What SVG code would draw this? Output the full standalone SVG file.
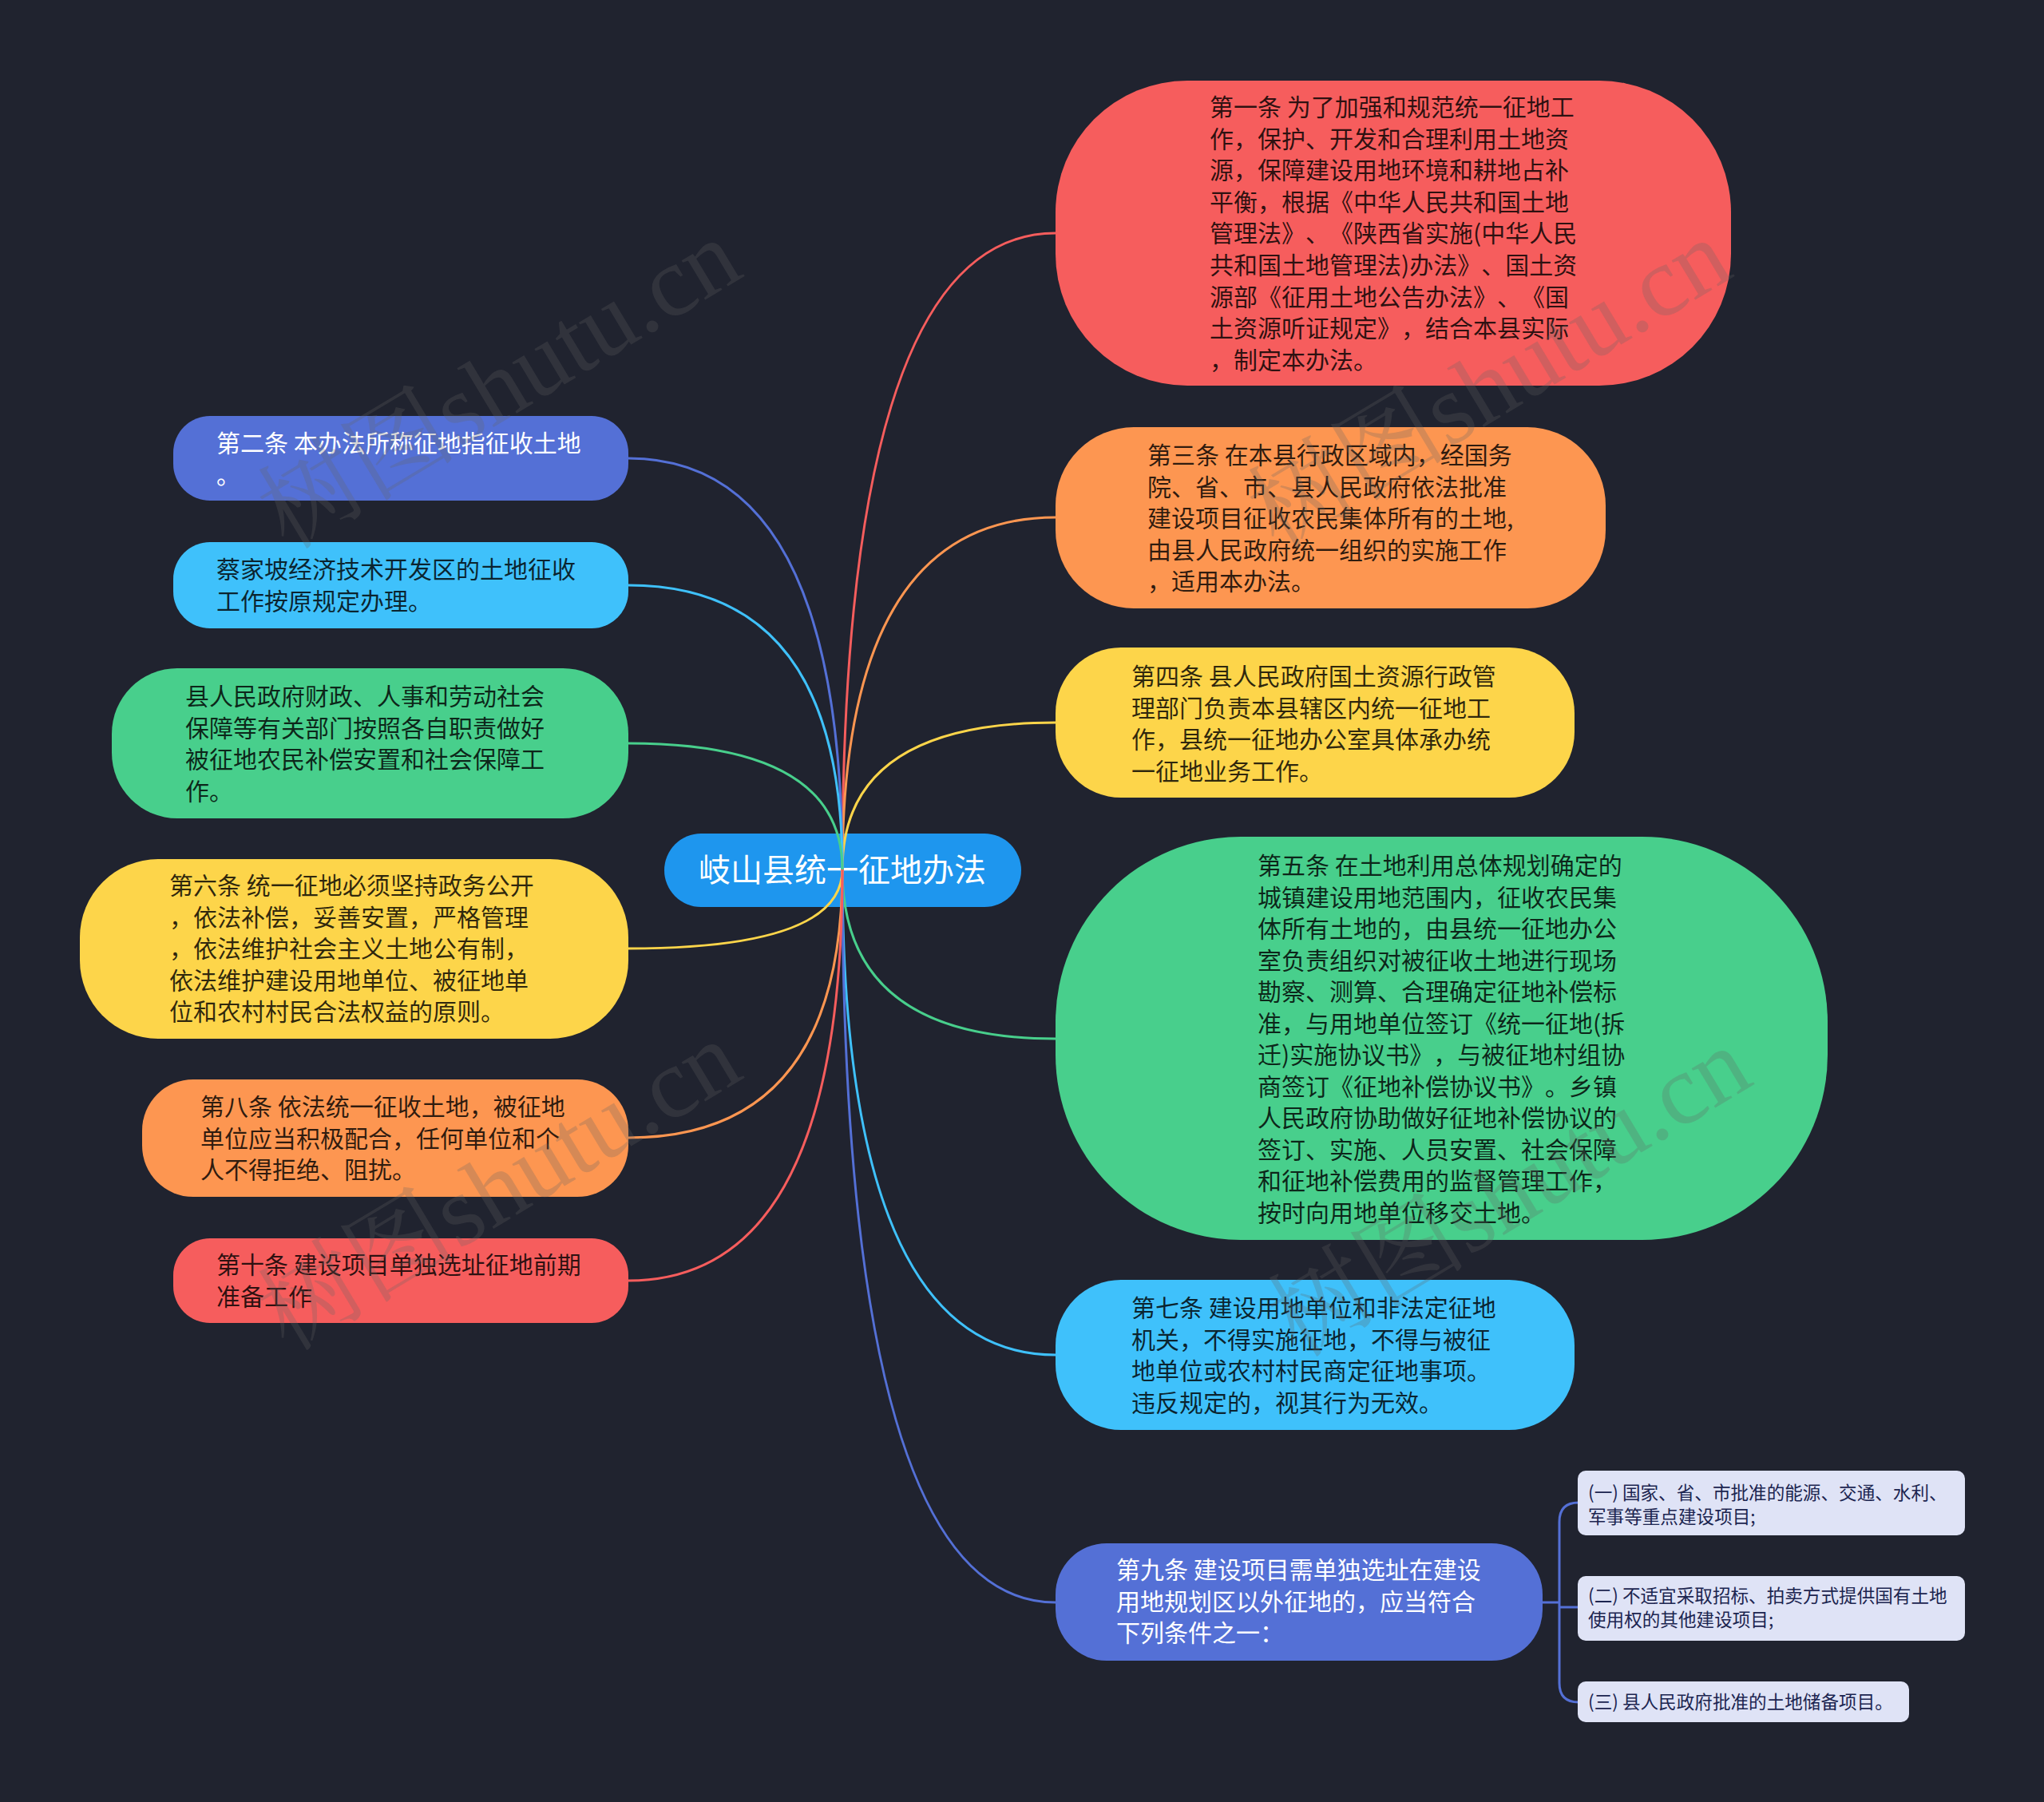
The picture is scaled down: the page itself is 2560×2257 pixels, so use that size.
<svg xmlns="http://www.w3.org/2000/svg" width="2560" height="2257" viewBox="0 0 2560 2257">
<style>
text{font-family:"Noto Sans CJK SC","Noto Sans",sans-serif;text-spacing-trim:space-all;}
.t{font-size:30px;fill:#000;fill-opacity:.82;}
.w{font-size:30px;fill:#fff;}
.s{font-size:22.6px;fill:#1c2550;}
.c{fill:none;stroke-width:3;}
.wm{font-family:"Liberation Serif","Noto Serif CJK SC","Noto Sans CJK SC",serif;font-size:125px;fill:#666;fill-opacity:.26;}
</style>
<rect width="2560" height="2257" fill="#20232f"/>

<g id="root">
<rect x="832" y="1044" width="447" height="92" rx="46" fill="#1e96ee"/>
<text x="1055" y="1104" font-size="40" fill="#fff" text-anchor="middle">岐山县统一征地办法</text>
</g>

<g id="connectors">
<path class="c" stroke="#f65d5d" d="M1055 1089 Q1055 292 1322 292"/>
<path class="c" stroke="#fd9651" d="M1055 1089 Q1055 648 1322 648"/>
<path class="c" stroke="#fdd54a" d="M1055 1089 Q1055 905 1322 905"/>
<path class="c" stroke="#48cf8c" d="M1055 1089 Q1055 1301 1322 1301"/>
<path class="c" stroke="#3fc1fb" d="M1055 1089 Q1055 1697 1322 1697"/>
<path class="c" stroke="#5470d6" d="M1055 1089 Q1055 2007 1322 2007"/>
<path class="c" stroke="#5470d6" d="M1055 1089 Q1055 574 787 574"/>
<path class="c" stroke="#3fc1fb" d="M1055 1089 Q1055 733 787 733"/>
<path class="c" stroke="#48cf8c" d="M1055 1089 Q1055 931 787 931"/>
<path class="c" stroke="#fdd54a" d="M1055 1089 Q1055 1188 787 1188"/>
<path class="c" stroke="#fd9651" d="M1055 1089 Q1055 1425 787 1425"/>
<path class="c" stroke="#f65d5d" d="M1055 1089 Q1055 1604 787 1604"/>
<path class="c" stroke="#5470d6" d="M1932 2007 H1953 M1953 2013 H1977 M1977 1882 Q1953 1882 1953 1906 V2108 Q1953 2132 1977 2132"/>
</g>

<g id="n1">
<rect x="1322" y="101" width="846" height="382" rx="165" fill="#f65d5d"/>
<text class="t" x="1515"><tspan x="1515" y="145">第一条 为了加强和规范统一征地工</tspan><tspan x="1515" y="184.6">作，保护、开发和合理利用土地资</tspan><tspan x="1515" y="224.2">源，保障建设用地环境和耕地占补</tspan><tspan x="1515" y="263.8">平衡，根据《中华人民共和国土地</tspan><tspan x="1515" y="303.4">管理法》、《陕西省实施(中华人民</tspan><tspan x="1515" y="343">共和国土地管理法)办法》、国土资</tspan><tspan x="1515" y="382.6">源部《征用土地公告办法》、《国</tspan><tspan x="1515" y="422.2">土资源听证规定》，结合本县实际</tspan><tspan x="1515" y="461.8">，制定本办法。</tspan></text>
</g>

<g id="n3">
<rect x="1322" y="535" width="689" height="227" rx="98" fill="#fd9651"/>
<text class="t"><tspan x="1437" y="581">第三条 在本县行政区域内，经国务</tspan><tspan x="1437" y="620.6">院、省、市、县人民政府依法批准</tspan><tspan x="1437" y="660.2">建设项目征收农民集体所有的土地,</tspan><tspan x="1437" y="699.8">由县人民政府统一组织的实施工作</tspan><tspan x="1437" y="739.4">，适用本办法。</tspan></text>
</g>

<g id="n4">
<rect x="1322" y="811" width="650" height="188" rx="82" fill="#fdd54a"/>
<text class="t"><tspan x="1417" y="858">第四条 县人民政府国土资源行政管</tspan><tspan x="1417" y="897.6">理部门负责本县辖区内统一征地工</tspan><tspan x="1417" y="937.2">作，县统一征地办公室具体承办统</tspan><tspan x="1417" y="976.8">一征地业务工作。</tspan></text>
</g>

<g id="n5">
<rect x="1322" y="1048" width="967" height="505" rx="232" fill="#48cf8c"/>
<text class="t"><tspan x="1575" y="1095">第五条 在土地利用总体规划确定的</tspan><tspan x="1575" y="1134.5">城镇建设用地范围内，征收农民集</tspan><tspan x="1575" y="1174">体所有土地的，由县统一征地办公</tspan><tspan x="1575" y="1213.5">室负责组织对被征收土地进行现场</tspan><tspan x="1575" y="1253">勘察、测算、合理确定征地补偿标</tspan><tspan x="1575" y="1292.5">准，与用地单位签订《统一征地(拆</tspan><tspan x="1575" y="1332">迁)实施协议书》，与被征地村组协</tspan><tspan x="1575" y="1371.5">商签订《征地补偿协议书》。乡镇</tspan><tspan x="1575" y="1411">人民政府协助做好征地补偿协议的</tspan><tspan x="1575" y="1450.5">签订、实施、人员安置、社会保障</tspan><tspan x="1575" y="1490">和征地补偿费用的监督管理工作，</tspan><tspan x="1575" y="1529.5">按时向用地单位移交土地。</tspan></text>
</g>

<g id="n7">
<rect x="1322" y="1603" width="650" height="188" rx="82" fill="#3fc1fb"/>
<text class="t"><tspan x="1417" y="1649">第七条 建设用地单位和非法定征地</tspan><tspan x="1417" y="1688.6">机关，不得实施征地，不得与被征</tspan><tspan x="1417" y="1728.2">地单位或农村村民商定征地事项。</tspan><tspan x="1417" y="1767.8">违反规定的，视其行为无效。</tspan></text>
</g>

<g id="n9">
<rect x="1322" y="1933" width="610" height="147" rx="64" fill="#5470d6"/>
<text class="w"><tspan x="1398" y="1977">第九条 建设项目需单独选址在建设</tspan><tspan x="1398" y="2016.6">用地规划区以外征地的，应当符合</tspan><tspan x="1398" y="2056.2">下列条件之一：</tspan></text>
</g>

<g id="n9a">
<rect x="1976" y="1842" width="485" height="81" rx="10" fill="#dfe3f6"/>
<text class="s"><tspan x="1989" y="1878">(一) 国家、省、市批准的能源、交通、水利、</tspan><tspan x="1989" y="1907.5">军事等重点建设项目;</tspan></text>
</g>
<g id="n9b">
<rect x="1976" y="1974" width="485" height="81" rx="10" fill="#dfe3f6"/>
<text class="s"><tspan x="1989" y="2007">(二) 不适宜采取招标、拍卖方式提供国有土地</tspan><tspan x="1989" y="2036.5">使用权的其他建设项目;</tspan></text>
</g>
<g id="n9c">
<rect x="1976" y="2106" width="415" height="51" rx="10" fill="#dfe3f6"/>
<text class="s"><tspan x="1989" y="2140">(三) 县人民政府批准的土地储备项目。</tspan></text>
</g>

<g id="n2">
<rect x="217" y="521" width="570" height="106" rx="46" fill="#5470d6"/>
<text class="w"><tspan x="271" y="566">第二条 本办法所称征地指征收土地</tspan><tspan x="271" y="605.6">。</tspan></text>
</g>

<g id="nCai">
<rect x="217" y="679" width="570" height="108" rx="46" fill="#3fc1fb"/>
<text class="t"><tspan x="271" y="724">蔡家坡经济技术开发区的土地征收</tspan><tspan x="271" y="763.6">工作按原规定办理。</tspan></text>
</g>

<g id="nFin">
<rect x="140" y="837" width="647" height="188" rx="82" fill="#48cf8c"/>
<text class="t"><tspan x="232" y="883">县人民政府财政、人事和劳动社会</tspan><tspan x="232" y="922.6">保障等有关部门按照各自职责做好</tspan><tspan x="232" y="962.2">被征地农民补偿安置和社会保障工</tspan><tspan x="232" y="1001.8">作。</tspan></text>
</g>

<g id="n6">
<rect x="100" y="1076" width="687" height="225" rx="98" fill="#fdd54a"/>
<text class="t"><tspan x="212" y="1120">第六条 统一征地必须坚持政务公开</tspan><tspan x="212" y="1159.6">，依法补偿，妥善安置，严格管理</tspan><tspan x="212" y="1199.2">，依法维护社会主义土地公有制，</tspan><tspan x="212" y="1238.8">依法维护建设用地单位、被征地单</tspan><tspan x="212" y="1278.4">位和农村村民合法权益的原则。</tspan></text>
</g>

<g id="n8">
<rect x="178" y="1352" width="609" height="147" rx="64" fill="#fd9651"/>
<text class="t"><tspan x="251" y="1397">第八条 依法统一征收土地，被征地</tspan><tspan x="251" y="1436.6">单位应当积极配合，任何单位和个</tspan><tspan x="251" y="1476.2">人不得拒绝、阻扰。</tspan></text>
</g>

<g id="n10">
<rect x="217" y="1551" width="570" height="106" rx="46" fill="#f65d5d"/>
<text class="t"><tspan x="271" y="1595">第十条 建设项目单独选址征地前期</tspan><tspan x="271" y="1634.6">准备工作</tspan></text>
</g>

<g id="watermark">
<text class="wm" transform="translate(360 690) rotate(-31)">树图shutu.cn</text>
<text class="wm" transform="translate(1600 690) rotate(-31)">树图shutu.cn</text>
<text class="wm" transform="translate(360 1694) rotate(-31)">树图shutu.cn</text>
<text class="wm" transform="translate(1625 1702) rotate(-31)">树图shutu.cn</text>
</g>
</svg>
